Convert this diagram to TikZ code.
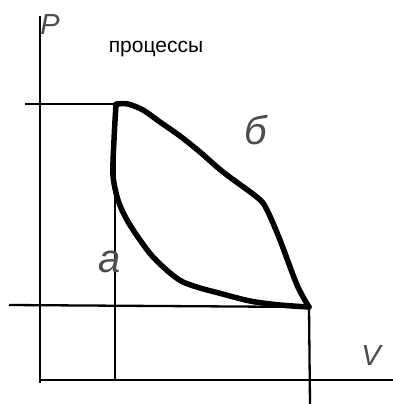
\documentclass[tikz,border=0pt]{standalone}
\usepackage{fontspec}
\setmainfont{Liberation Sans}
\usetikzlibrary{positioning}

\begin{document}
\begin{tikzpicture}[
  x=1pt, y=-1pt,
  axis/.style={line width=2.6pt},
  guide/.style={line width=2.3pt},
  proc/.style={line width=5.5pt, line join=round, line cap=round},
  hand/.style={font=\fontsize{29}{29}\selectfont\itshape, text=black!70, inner sep=0pt},
  bighand/.style={hand, font=\fontsize{40}{40}\selectfont\itshape},
  ttl/.style={font=\fontsize{21}{21}\selectfont, inner sep=0pt}
]
  \useasboundingbox (0,0) rectangle (393,404);

  % corner points of the cycle
  \coordinate (start) at (116,104);
  \coordinate (end)   at (309,307);
  \coordinate (origin) at (40,380);
  \coordinate (ptop)  at (40,16);
  \coordinate (vend)  at (393,380);

  % axes
  \draw[axis] (ptop) -- (40,383);
  \draw[axis] (origin) -- (vend);

  % guide lines
  \draw[guide] (25,104) -- (start);
  \draw[guide] (115,104) -- (115,381);
  \draw[guide] (9,305) -- (end);
  \draw[guide] (end) -- (310,404);

  % process b (upper)
  \draw[proc] plot[smooth, tension=0.5] coordinates {(117,104) (128,104) (143,110) (160,122)
    (180,136) (200,152) (223,172) (258,198) (267,210) (280,240) (297,285) (309,307)};
  % process a (lower)
  \draw[proc] plot[smooth, tension=0.5] coordinates {(116,104) (114,140) (113,175) (118,200)
    (127,220) (140,240) (153,257) (170,273) (183,282) (200,288) (215,292) (250,301)
    (280,305) (309,307)};

  % labels
  \node[ttl]     (title) at (156,49)  {процессы};
  \node[hand]    (lp)    at (50,25)   {Р};
  \node[bighand] (lb)    at (256,130) {б};
  \node[bighand] (la)    at (110,262) {а};
  \node[hand]    (lv)    at (371,356) {V};
\end{tikzpicture}
\end{document}
